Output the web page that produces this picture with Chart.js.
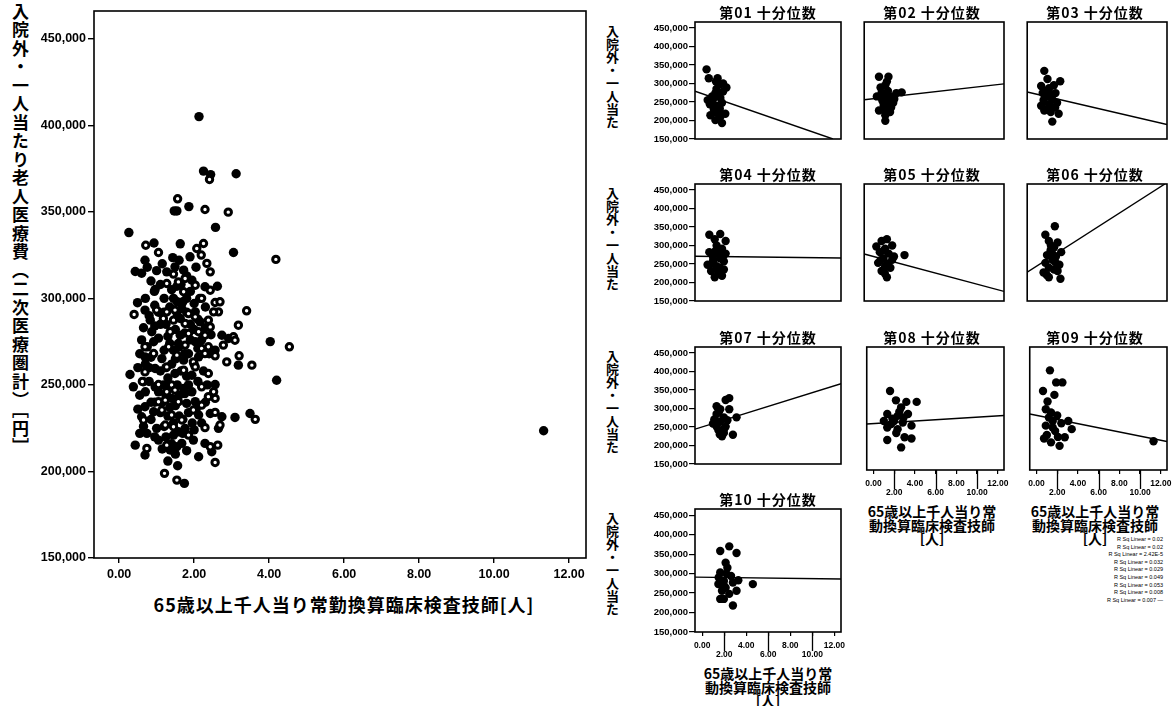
<!DOCTYPE html>
<html>
<head>
<meta charset="utf-8">
<script src="https://cdn.jsdelivr.net/npm/chart.js@4.4.0/dist/chart.umd.min.js"></script>
<style>
body { margin: 0; background: #fff; width: 1175px; height: 706px; overflow: hidden; position: relative; font-family: "Noto Sans CJK JP", sans-serif; color: #000; }
.vt { position: absolute; writing-mode: vertical-rl; text-orientation: mixed; font-weight: bold; white-space: nowrap; }
.ttl { position: absolute; text-align: center; font-weight: bold; white-space: nowrap; }
#rsq { position: absolute; right: 12px; top: 536px; font: 5.5px/7.6px "Liberation Sans", sans-serif; text-align: right; }
</style>
</head>
<body>

<div class="vt" style="left:8px; top:3px; font-size:17px; letter-spacing:1.5px;">入院外・一人当たり老人医療費（二次医療圏計）［円］</div>
<div class="ttl" style="left:0; top:591px; width:688px; font-size:18px; letter-spacing:1px;">65歳以上千人当り常勤換算臨床検査技師[人]</div>
<div id="rsq"></div>

<script>
// axis ticks
const yTicks = [150000, 200000, 250000, 300000, 350000, 400000, 450000];
const yTickLabels = ['150,000', '200,000', '250,000', '300,000', '350,000', '400,000', '450,000'];
const xTicks = [0, 2, 4, 6, 8, 10, 12];
const xTickLabels = ['0.00', '2.00', '4.00', '6.00', '8.00', '10.00', '12.00'];
const yRange = [150000, 466000];
const xRangeMain = [-0.67, 12.45];
const xRangePanel = [-0.65, 12.6];

// main scatter: two marker groups [x, y]
const mainFilled = [
    [2.13, 405000], [2.25, 373500], [2.44, 371500], [3.12, 372000], [1.47, 350500], [1.54, 350500], [1.86, 353000],
    [2.57, 341000], [0.26, 338000], [0.93, 332000], [1.63, 331500], [3.05, 326500], [1.43, 323500], [1.89, 324000],
    [0.69, 322000], [0.43, 315500], [0.6, 314500], [2.62, 307000], [0.94, 304000], [0.49, 297500], [4.03, 275000],
    [1.27, 315300], [1.49, 318200], [1.72, 316300], [1.94, 310500], [2.29, 306700], [0.96, 305100], [1.54, 307000],
    [0.69, 293200], [1.67, 294100], [2.03, 292200], [0.83, 287400], [1.63, 288400], [2.16, 286400], [0.87, 280700],
    [1.63, 278700], [2.74, 278700], [2.92, 276800], [0.92, 274900], [1.58, 273900], [2.03, 274900], [2.56, 270100],
    [0.69, 266200], [1.14, 265200], [1.72, 264300], [2.12, 266200], [3.18, 261400], [0.29, 256000], [0.96, 259500],
    [1.49, 256600], [1.94, 255600], [4.2, 252700], [0.65, 251800], [1.18, 249900], [1.72, 248000], [2.56, 250200],
    [0.38, 248900], [0.96, 248900], [1.94, 246000], [0.69, 237400], [1.4, 242200], [1.8, 239300], [2.03, 240300],
    [0.6, 231600], [0.92, 234500], [2.12, 232600], [2.43, 233500], [2.74, 231600], [3.09, 231200], [3.49, 233500],
    [0.74, 222000], [1.0, 224900], [1.58, 222900], [1.76, 224900], [2.65, 224900], [0.43, 215200], [0.69, 209500],
    [1.05, 218100], [1.36, 212400], [1.54, 214300], [1.67, 216200], [1.98, 218100], [2.29, 216200], [2.47, 211400],
    [2.12, 208500], [1.56, 203300], [1.74, 193100], [11.32, 223500],
    [1.2, 300000], [1.35, 295000], [1.1, 285000], [1.3, 278000], [1.45, 270000], [1.25, 260000], [1.35, 250000],
    [1.15, 240000], [1.3, 232000], [1.45, 228000], [1.25, 220000], [1.4, 216000], [1.8, 300000], [1.9, 285000],
    [1.75, 268000], [1.85, 250000], [1.6, 244000], [1.05, 292000], [1.55, 298000], [1.7, 230000], [1.95, 228000],
    [0.85, 240000], [0.8, 260000], [0.75, 272000],
    [0.75, 318000], [1.0, 316000], [1.15, 320000], [1.6, 322000], [1.8, 313000], [2.05, 318000], [0.85, 310000],
    [1.1, 308000], [1.4, 305000], [1.65, 308000], [1.9, 304000], [2.15, 300000], [0.7, 300000], [0.95, 296000],
    [1.45, 300000], [1.7, 298000], [2.0, 297000], [2.3, 295000], [0.8, 290000], [1.2, 292000], [1.55, 290000],
    [1.8, 292000], [2.1, 288000], [0.65, 283000], [0.95, 284000], [1.25, 285000], [1.5, 282000], [1.75, 280000],
    [2.0, 282000], [2.3, 283000], [0.6, 276000], [1.05, 277000], [1.35, 274000], [1.6, 272000], [1.9, 276000],
    [2.2, 276000], [2.45, 279000], [0.55, 268000], [0.85, 266000], [1.2, 270000], [1.5, 265000], [1.85, 268000],
    [2.1, 271000], [2.4, 268000], [0.5, 260000], [0.7, 262000], [1.1, 258000], [1.4, 262000], [1.65, 258000],
    [2.0, 262000], [2.25, 258000], [0.55, 244000], [0.8, 252000], [1.05, 246000], [1.3, 254000], [1.55, 250000],
    [1.8, 255000], [2.1, 252000], [2.35, 250000], [0.7, 246000], [0.95, 240000], [1.25, 244000], [1.5, 238000],
    [1.75, 245000], [2.05, 236000], [2.3, 240000], [0.65, 226000], [0.85, 230000], [1.1, 234000], [1.35, 237000],
    [1.6, 232000], [1.85, 234000], [2.2, 228000], [0.95, 220000], [1.2, 226000], [1.45, 221000], [1.7, 222000],
    [2.0, 224000], [1.15, 213000], [1.5, 210000], [1.8, 212000], [0.55, 222000], [0.5, 236000], [1.3, 206000]
];
const mainHollow = [
    [2.41, 368700], [1.56, 357500], [2.29, 351300], [2.91, 349800], [0.71, 330700], [2.25, 331700], [1.05, 326500],
    [2.07, 328800], [2.19, 325000], [2.34, 320200], [2.43, 315300], [4.18, 322500], [2.2, 300000], [0.4, 290700],
    [3.4, 292800], [2.56, 297600], [2.65, 292200], [3.18, 284500], [4.54, 272000],
    [1.45, 314000], [1.76, 311500], [2.03, 307600], [1.27, 308600], [1.58, 309500], [1.72, 303800], [2.43, 304700],
    [2.69, 298000], [1.0, 293200], [1.27, 292200], [1.49, 293200], [1.85, 291200], [2.52, 292200], [1.18, 288400],
    [1.45, 287400], [1.76, 285500], [2.03, 289300], [2.38, 287400], [2.43, 283500], [1.36, 280700], [1.85, 279700],
    [2.12, 280700], [2.29, 278700], [3.05, 277800], [0.69, 272000], [1.32, 272000], [1.76, 273000], [2.2, 271000],
    [2.38, 272000], [2.78, 273000], [3.09, 275800], [0.92, 268100], [1.54, 267200], [1.98, 263300], [2.29, 268100],
    [2.56, 266800], [2.87, 263300], [3.2, 266800], [3.54, 261400], [0.69, 257500], [1.27, 260400], [1.72, 258500],
    [2.03, 260400], [2.38, 256600], [1.05, 250200], [1.4, 249900], [2.2, 248900], [0.62, 252000],
    [1.27, 246000], [1.49, 247000], [2.52, 246000], [1.05, 240300], [1.23, 241200], [1.58, 240300], [2.2, 238300],
    [2.38, 243200], [2.56, 242200], [0.65, 229700], [1.14, 235500], [1.4, 232600], [1.67, 229700], [1.98, 235500],
    [2.56, 234100], [3.63, 230100], [1.23, 226800], [1.45, 225800], [1.85, 221000], [2.29, 225300], [2.69, 226800],
    [0.74, 213300], [1.27, 215200], [2.43, 214300], [2.63, 215200], [2.56, 205200], [1.21, 198900], [1.54, 195000]
];

// deciles [x, y]
const dec01 = [[0.4, 338000], [0.6, 314000], [1.4, 314000], [1.6, 298000], [2.2, 289000], [1.9, 278000], [1.2, 274000],
    [0.5, 255000], [0.9, 248000], [1.35, 240000], [1.05, 231000], [1.5, 218000], [2.1, 218000], [0.75, 214000],
    [1.65, 210000], [1.8, 193000], [1.2, 201000], [0.9, 265000], [1.65, 261000], [1.8, 248000], [1.3, 285000],
    [1.0, 258000], [1.6, 232000], [1.1, 222000], [1.45, 268000], [0.7, 244000], [1.9, 300000], [1.25, 305000]];
const dec02 = [[0.75, 318000], [1.65, 318000], [0.9, 289000], [1.35, 295000], [1.0, 274000], [0.55, 265000], [1.45, 257000],
    [1.9, 265000], [2.4, 274000], [1.2, 240000], [0.75, 227000], [1.35, 214000], [1.8, 223000], [2.1, 248000],
    [2.9, 276000], [1.35, 199000], [1.6, 280000], [1.1, 252000], [1.9, 235000], [1.5, 305000], [1.0, 260000],
    [1.7, 245000], [2.2, 258000], [1.25, 230000], [1.55, 268000]];
const dec03 = [[0.97, 334000], [1.27, 312000], [2.48, 306000], [0.67, 293000], [1.42, 287000], [1.88, 295000], [0.82, 274000],
    [1.27, 265000], [1.73, 257000], [2.18, 248000], [0.67, 240000], [0.97, 227000], [1.58, 223000], [2.33, 218000],
    [1.73, 197000], [1.42, 244000], [2.03, 274000], [1.1, 280000], [1.6, 270000], [0.9, 255000], [2.0, 235000], [1.3, 232000]];
const dec04 = [[0.65, 329000], [1.64, 331000], [1.14, 317000], [2.13, 312000], [1.31, 300000], [1.8, 291000], [0.65, 282000],
    [1.47, 278000], [2.13, 278000], [0.98, 270000], [1.64, 265000], [0.49, 248000], [1.31, 244000], [1.97, 257000],
    [0.81, 231000], [1.47, 227000], [1.8, 218000], [1.14, 214000], [1.97, 235000], [0.98, 252000], [1.2, 285000],
    [1.6, 240000], [1.0, 260000], [1.9, 270000]];
const dec05 = [[1.0, 312000], [1.5, 317000], [0.5, 297000], [1.33, 291000], [2.0, 300000], [0.83, 282000], [1.67, 278000],
    [3.17, 274000], [1.17, 265000], [2.0, 261000], [0.67, 253000], [1.33, 244000], [1.83, 240000], [1.0, 231000],
    [1.5, 214000], [2.17, 270000], [1.2, 286000], [0.9, 260000], [1.6, 250000], [1.3, 225000]];
const dec06 = [[1.07, 329000], [1.97, 352000], [1.4, 312000], [2.23, 308000], [1.9, 295000], [1.57, 287000], [2.57, 282000],
    [1.23, 274000], [2.07, 270000], [1.73, 261000], [1.07, 253000], [2.4, 248000], [1.4, 240000], [1.9, 235000],
    [0.9, 227000], [2.23, 231000], [1.4, 214000], [2.5, 210000], [1.73, 278000], [1.2, 220000], [1.6, 300000], [2.0, 255000]];
const dec07 = [[1.31, 306000], [2.13, 323000], [2.46, 328000], [1.64, 298000], [2.46, 298000], [3.12, 276000], [1.31, 285000],
    [1.97, 276000], [1.64, 264000], [0.98, 259000], [2.13, 251000], [1.47, 242000], [1.97, 234000], [1.8, 225000],
    [2.79, 229000], [1.31, 251000], [2.29, 268000], [1.5, 290000], [1.1, 270000], [2.0, 245000], [1.6, 230000]];
const dec08 = [[1.6, 353000], [2.17, 329000], [3.17, 325000], [4.17, 325000], [2.67, 311000], [1.33, 294000], [2.33, 289000],
    [3.33, 294000], [2.0, 276000], [2.83, 272000], [3.67, 264000], [1.33, 259000], [2.33, 255000], [3.0, 234000],
    [3.67, 231000], [1.33, 227000], [2.67, 208000], [1.83, 282000], [1.0, 276000], [2.5, 300000], [2.9, 285000],
    [1.7, 268000], [2.2, 245000]];
const dec09 = [[1.3, 406000], [1.9, 375000], [2.5, 375000], [0.63, 353000], [1.73, 343000], [1.07, 326000], [0.9, 306000],
    [1.4, 298000], [2.4, 270000], [3.07, 276000], [3.4, 255000], [0.9, 264000], [1.57, 259000], [2.07, 235000],
    [2.73, 234000], [0.73, 231000], [1.4, 221000], [2.23, 212000], [1.57, 276000], [11.3, 224000], [1.2, 285000],
    [1.8, 250000], [1.0, 240000], [2.0, 290000]];
const dec10 = [[1.64, 358000], [2.46, 370000], [3.12, 353000], [2.13, 328000], [2.29, 315000], [1.64, 303000], [2.62, 294000],
    [1.97, 281000], [1.47, 273000], [2.79, 277000], [3.28, 283000], [2.13, 264000], [1.8, 256000], [3.12, 256000],
    [4.6, 273000], [1.97, 235000], [1.64, 235000], [2.79, 218000], [2.46, 248000], [1.5, 290000], [2.2, 300000],
    [2.0, 268000], [1.7, 282000]];
const deciles = [dec01, dec02, dec03, dec04, dec05, dec06, dec07, dec08, dec09, dec10];

// fit line ends [x0, y0, x1, y1]
const fitLines = [
    [-0.65, 279000, 11.87, 150000], [-0.65, 256000, 12.6, 299000], [-0.65, 277000, 12.6, 189000],
    [-0.65, 271000, 12.6, 266000], [-0.65, 277000, 12.6, 176000], [-0.65, 228000, 12.4, 466000],
    [-0.65, 244000, 12.6, 367000], [-0.65, 268000, 12.6, 290000], [-0.65, 294000, 12.6, 223000],
    [-0.65, 291000, 12.6, 286000]
];
const decileTitles = ['第01 十分位数', '第02 十分位数', '第03 十分位数', '第04 十分位数', '第05 十分位数',
    '第06 十分位数', '第07 十分位数', '第08 十分位数', '第09 十分位数', '第10 十分位数'];
const rsqLines = ['R Sq Linear = 0.02', 'R Sq Linear = 0.02', 'R Sq Linear = 2.42E-5', 'R Sq Linear = 0.032',
    'R Sq Linear = 0.029', 'R Sq Linear = 0.049', 'R Sq Linear = 0.053', 'R Sq Linear = 0.008', 'R Sq Linear = 0.007 —'];

document.getElementById('rsq').innerHTML = rsqLines.join('<br>');

Chart.defaults.font.family = '"Liberation Sans", Arial, sans-serif';
Chart.defaults.color = '#000';

// box around plot area + long ticks for staggered labels
const frameBox = {
    id: 'frameBox',
    beforeDatasetsDraw(chart, args, opts) {
        const a = chart.chartArea;
        const ctx = chart.ctx;
        ctx.save();
        ctx.strokeStyle = '#000';
        ctx.lineWidth = opts.width || 1.5;
        ctx.strokeRect(a.left, a.top, a.right - a.left, a.bottom - a.top);
        if (opts.longTicks) {
            const sx = chart.scales.x;
            ctx.lineWidth = 1.3;
            opts.longTicks.forEach(v => {
                const px = Math.round(sx.getPixelForValue(v)) + 0.5;
                ctx.beginPath();
                ctx.moveTo(px, a.bottom);
                ctx.lineTo(px, a.bottom + 19);
                ctx.stroke();
            });
        }
        ctx.restore();
    }
};

function toXY(arr) {
    return arr.map(p => ({ x: p[0], y: p[1] }));
}

function addCanvas(left, top, w, h) {
    const d = document.createElement('div');
    d.style.cssText = `position:absolute;left:${left}px;top:${top}px;width:${w}px;height:${h}px`;
    const c = document.createElement('canvas');
    c.width = w;
    c.height = h;
    c.style.width = w + 'px';
    c.style.height = h + 'px';
    d.appendChild(c);
    document.body.appendChild(d);
    return c;
}

function addText(cls, html, css) {
    const d = document.createElement('div');
    d.className = cls;
    d.innerHTML = html;
    d.style.cssText = css;
    document.body.appendChild(d);
}

// Main scatter
const mainCanvas = addCanvas(0, 0, 600, 600);
new Chart(mainCanvas, {
    type: 'scatter',
    data: {
        datasets: [
            { data: toXY(mainHollow), backgroundColor: '#fff', borderColor: '#000', borderWidth: 3, pointRadius: 3.2, order: 0 },
            { data: toXY(mainFilled), backgroundColor: '#000', borderColor: '#000', borderWidth: 0, pointRadius: 4.7, order: 1 }
        ]
    },
    options: {
        responsive: false,
        devicePixelRatio: 1,
        animation: false,
        layout: { padding: { top: 11, right: 14, left: 0, bottom: 0 } },
        plugins: { legend: { display: false }, tooltip: { enabled: false }, frameBox: { width: 1.6 } },
        scales: {
            x: {
                type: 'linear', min: xRangeMain[0], max: xRangeMain[1],
                afterFit: s => { s.height = 42; },
                afterBuildTicks: s => { s.ticks = xTicks.map(v => ({ value: v })); },
                ticks: { autoSkip: false, maxRotation: 0, padding: 4, font: { size: 12.5, weight: 'bold' },
                    callback: (v, i) => xTickLabels[i] },
                grid: { drawOnChartArea: false, tickLength: 5, color: '#000', lineWidth: 1.4 },
                border: { display: false }
            },
            y: {
                type: 'linear', min: yRange[0], max: yRange[1],
                afterFit: s => { s.width = 94; },
                afterBuildTicks: s => { s.ticks = yTicks.map(v => ({ value: v })); },
                ticks: { autoSkip: false, padding: 2, font: { size: 12.5, weight: 'bold' },
                    callback: (v, i) => yTickLabels[i] },
                grid: { drawOnChartArea: false, tickLength: 6, color: '#000', lineWidth: 1.4 },
                border: { display: false }
            }
        }
    },
    plugins: [frameBox]
});

// Small multiples
const panelCols = [[695, 841], [860, 1004], [1023, 1167]];
const panelRows = [[22, 145], [184, 307], [347, 470], [509, 632]];

deciles.forEach((pts, i) => {
    const row = Math.floor(i / 3), col = i % 3;
    const [bl, br] = panelCols[col];
    const [bt, bb] = panelRows[row];
    const showY = col === 0;
    const showX = i >= 7;
    const L = showY ? 50 : 0, T = 8, R = 12, B = showX ? 30 : 6;
    const w = L + (br - bl) + R, h = T + (bb - bt) + B;
    const cv = addCanvas(bl - L, bt - T, w, h);
    const f = fitLines[i];

    new Chart(cv, {
        type: 'scatter',
        data: {
            datasets: [
                { data: toXY(pts), backgroundColor: '#000', borderWidth: 0, pointRadius: 4.2, order: 1 },
                { data: [{ x: f[0], y: f[1] }, { x: f[2], y: f[3] }], showLine: true, borderColor: '#000',
                  borderWidth: 1.4, pointRadius: 0, order: 0 }
            ]
        },
        options: {
            responsive: false,
            devicePixelRatio: 1,
            animation: false,
            layout: { padding: { top: T, right: R, left: showY ? 0 : L, bottom: showX ? 0 : B } },
            plugins: { legend: { display: false }, tooltip: { enabled: false },
                frameBox: { width: 1.6, longTicks: showX ? [2, 6, 10] : null } },
            scales: {
                x: {
                    type: 'linear', display: showX, min: xRangePanel[0], max: xRangePanel[1],
                    afterFit: s => { s.height = B; },
                    afterBuildTicks: s => { s.ticks = xTicks.map(v => ({ value: v })); },
                    ticks: { autoSkip: false, maxRotation: 0, padding: 5, font: { size: 8.5, weight: 'bold', lineHeight: 1.05 },
                        callback: (v, k) => (k % 2 ? ['', xTickLabels[k]] : [xTickLabels[k]]) },
                    grid: { drawOnChartArea: false, tickLength: 4, color: '#000', lineWidth: 1.2 },
                    border: { display: false }
                },
                y: {
                    type: 'linear', display: showY, min: yRange[0], max: yRange[1],
                    afterFit: s => { s.width = L; },
                    afterBuildTicks: s => { s.ticks = yTicks.map(v => ({ value: v })); },
                    ticks: { autoSkip: false, padding: 1, font: { size: 9.5, weight: 'bold' },
                        callback: (v, k) => yTickLabels[k] },
                    grid: { drawOnChartArea: false, tickLength: 6, color: '#000', lineWidth: 1.2 },
                    border: { display: false }
                }
            }
        },
        plugins: [frameBox]
    });

    addText('ttl', decileTitles[i],
        `left:${bl}px;top:${bt - 19}px;width:${br - bl}px;font-size:14px;line-height:18px;letter-spacing:1px;`);
    if (showY) {
        addText('vt', '入院外・一人当た', `left:605px;top:${bt + 3}px;font-size:13px;line-height:15px;`);
    }
    if (showX) {
        const cx = (bl + br) / 2;
        addText('ttl', '65歳以上千人当り常<br>動換算臨床検査技師<br>[人]',
            `left:${cx - 85}px;top:${bb + 35}px;width:170px;font-size:14px;line-height:13.5px;`);
    }
});
</script>
</body>
</html>
